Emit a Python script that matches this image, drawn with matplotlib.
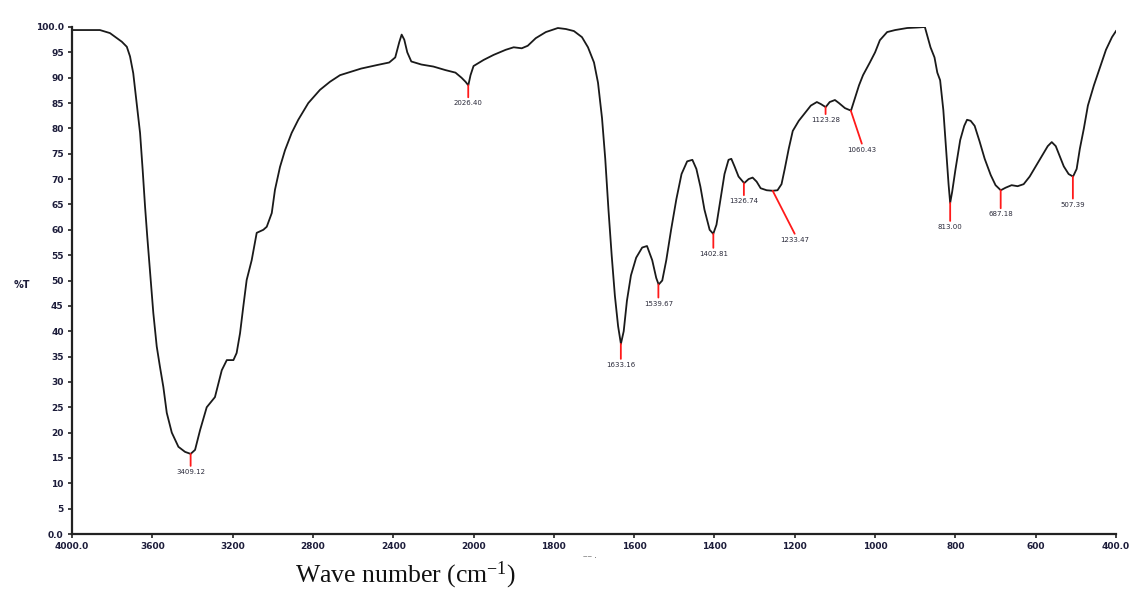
import numpy as np
import matplotlib
matplotlib.use("Agg")
import matplotlib.pyplot as plt

plt.rcParams["mathtext.fontset"] = "custom"
plt.rcParams["mathtext.rm"] = "Liberation Serif"
plt.rcParams["mathtext.it"] = "Liberation Serif:italic"
plt.rcParams["mathtext.bf"] = "Liberation Serif:bold"

# ---------------- data ----------------
wavenumber = [4000, 3900, 3861, 3811, 3752, 3727, 3711, 3695, 3678, 3661, 3648, 3636,
              3625, 3611, 3595, 3578, 3562, 3545, 3528, 3503, 3470, 3437, 3409, 3387,
              3362, 3329, 3288, 3254, 3229, 3196, 3180, 3163, 3147, 3130, 3105, 3080,
              3047, 3030, 3005, 2989, 2964, 2939, 2906, 2873, 2823, 2765, 2715, 2665,
              2560, 2480, 2420, 2390, 2370,
              2358, 2345, 2330, 2310, 2260, 2200, 2140, 2090, 2060, 2040, 2026, 2015,
              2000, 1975, 1950, 1920, 1900, 1880, 1865, 1845, 1820, 1790, 1770, 1750,
              1730, 1715, 1700, 1690, 1680, 1672, 1664, 1656, 1648, 1640, 1633, 1626,
              1618, 1608, 1595, 1580, 1568, 1555, 1545, 1539, 1530, 1520, 1508, 1495,
              1482, 1468, 1455, 1445, 1435, 1425, 1412, 1403, 1395, 1385, 1375, 1365,
              1358, 1350, 1340, 1326, 1315, 1305, 1295, 1285, 1270, 1255, 1243, 1233,
              1225, 1215, 1205, 1190, 1175, 1160, 1145, 1135, 1123, 1113, 1100, 1090,
              1075, 1060, 1050, 1040, 1030, 1013, 1000, 988, 970, 950, 920, 895, 876,
              862, 852, 845, 838, 830, 823, 817, 813, 808, 800, 788, 778, 771, 762,
              752, 740, 727, 712, 700, 687, 675, 660, 645, 630, 615, 600, 585, 570,
              560, 550, 540, 530, 518, 507, 498, 490, 480, 470, 455, 440, 425, 410, 400]
transmittance = [99.4, 99.4, 99.4, 98.8, 97.1, 96.1, 94.2, 90.9, 85.0, 79.1, 71.8, 64.5,
                 58.6, 51.5, 43.6, 37.0, 33.0, 29.0, 23.9, 20.0, 17.2, 16.2, 15.8, 16.6,
                 20.5, 25.0, 27.0, 32.3, 34.3, 34.3, 35.7, 39.6, 44.8, 50.1, 54.0, 59.4,
                 60.0, 60.6, 63.3, 67.9, 72.4, 75.7, 79.1, 81.7, 85.0, 87.6, 89.2, 90.5,
                 91.8, 92.5, 93.0, 94.0, 97.0,
                 98.5, 97.5, 95.0, 93.2, 92.6, 92.2, 91.5, 91.0, 90.0, 89.2, 88.5, 90.5,
                 92.3, 93.5, 94.5, 95.5, 96.0, 95.8, 96.3, 97.8, 99.0, 99.8, 99.6, 99.2,
                 98.0, 96.0, 93.0, 89.0, 82.0, 74.0, 64.0, 55.0, 47.0, 41.0, 37.5, 40.0,
                 46.0, 51.0, 54.5, 56.5, 56.8, 54.0, 50.5, 49.2, 50.0, 54.0, 60.0, 66.0,
                 71.0, 73.5, 73.8, 72.0, 68.5, 64.0, 60.0, 59.2, 61.0, 66.0, 71.0, 73.8,
                 74.0, 72.5, 70.5, 69.2, 70.0, 70.3, 69.5, 68.2, 67.8, 67.7, 67.8, 69.0,
                 72.0, 76.0, 79.5, 81.5, 83.0, 84.5, 85.2, 84.8, 84.2, 85.2, 85.6, 85.0,
                 84.0, 83.5, 86.0, 88.5, 90.5, 93.0, 95.0, 97.4, 99.0, 99.4, 99.8, 99.9, 100.0,
                 96.0, 94.0, 91.0, 89.5, 83.6, 75.7, 69.0, 65.3, 67.5, 71.8, 77.7, 80.5, 81.7, 81.5,
                 80.5, 77.5, 74.0, 70.8, 68.8, 67.8, 68.3, 68.8, 68.6, 69.0, 70.5, 72.5, 74.5, 76.5,
                 77.3, 76.5, 74.5, 72.5, 71.0, 70.5, 72.0, 76.0, 80.0, 84.5, 88.5, 92.0, 95.5, 98.0, 99.2]

peak_labels = ["3409.12", "2026.40", "1633.16", "1539.67", "1402.81", "1326.74",
               "1233.47", "1123.28", "1060.43", "813.00", "687.18", "507.39"]
peak_wn = [3409.12, 2026.40, 1633.16, 1539.67, 1402.81, 1326.74,
           1255.0, 1123.28, 1060.43, 813.00, 687.18, 507.39]
peak_T = [15.8, 88.5, 37.5, 49.2, 59.2, 69.2, 67.7, 84.2, 83.5, 65.3, 67.8, 70.5]
# leader-line end offsets (pixels) for each label
line_end = [(0, -12), (0, -12), (0, -15), (0, -13), (0, -14), (0, -12),
            (22, -43), (0, -7), (11, -33), (0, -18), (0, -18), (0, -22)]

x_ticks = [4000, 3600, 3200, 2800, 2400, 2000, 1800, 1600, 1400, 1200, 1000, 800, 600, 400]
x_tick_labels = ["4000.0", "3600", "3200", "2800", "2400", "2000", "1800", "1600",
                 "1400", "1200", "1000", "800", "600", "400.0"]
y_ticks = list(range(0, 101, 5))
y_tick_labels = ["0.0"] + [str(v) for v in range(5, 100, 5)] + ["100.0"]


# ------------- piecewise scale (scale change at 2000 cm-1) -------------
def fwd(w):
    w = np.asarray(w, dtype=float)
    return np.where(w <= 2000, w, 2000 + (w - 2000) / 2.0)


def inv(p):
    p = np.asarray(p, dtype=float)
    return np.where(p <= 2000, p, 2000 + (p - 2000) * 2.0)


fig = plt.figure(figsize=(11.35, 5.89), dpi=100)
ax = fig.add_axes([72 / 1135, 1 - 534 / 589, (1116 - 72) / 1135, (534 - 27) / 589])
ax.set_xscale("function", functions=(fwd, inv))
ax.plot(wavenumber, transmittance, color="#1a1a1a", lw=1.3)
ax.set_xlim(4000, 400)
ax.set_ylim(0, 100)

for s in ["top", "right"]:
    ax.spines[s].set_visible(False)
for s in ["left", "bottom"]:
    ax.spines[s].set_linewidth(1.6)
    ax.spines[s].set_color("#222222")

ax.set_xticks(x_ticks)
ax.set_xticklabels(x_tick_labels)
ax.set_yticks(y_ticks)
ax.set_yticklabels(y_tick_labels)
ax.xaxis.set_minor_locator(plt.NullLocator())
ax.tick_params(axis="both", direction="out", length=3, width=1.2, color="#222222",
               labelsize=6.5, labelcolor="#1c1c3a", pad=3)
for lab in ax.get_xticklabels() + ax.get_yticklabels():
    lab.set_fontweight("bold")

for lbl, w, t, (dx, dy) in zip(peak_labels, peak_wn, peak_T, line_end):
    ax.annotate("", xy=(w, t), xytext=(dx, dy), textcoords="offset pixels",
                arrowprops=dict(arrowstyle="-", color="#ff1a1a", lw=1.3,
                                shrinkA=0, shrinkB=0))
    ax.annotate(lbl, xy=(w, t), xytext=(dx, dy - 3), textcoords="offset pixels",
                ha="center", va="top", fontsize=5, color="#2a2a3a")

fig.text(22 / 1135, 1 - 285 / 589, "%T", fontsize=7, fontweight="bold",
         color="#1c1c3a", ha="center", va="center")
fig.text(405 / 1135, 1 - 575 / 589, "Wave number (cm$^{-1}$)",
         fontsize=18.5, family="Liberation Serif", ha="center", va="center",
         color="#111111")
fig.text(590 / 1135, 1 - 556 / 589, "‒‒ .", fontsize=5, color="#444444",
         ha="center", va="center")

fig.savefig("out.png", dpi=100)
